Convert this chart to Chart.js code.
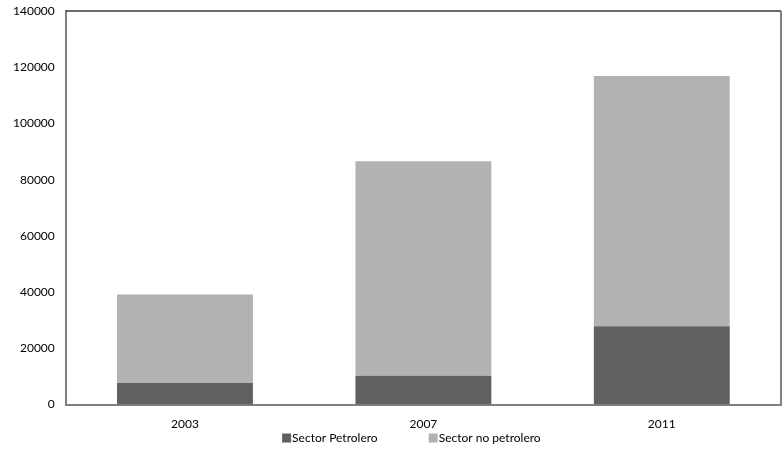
<!DOCTYPE html>
<html>
<head>
<meta charset="utf-8">
<script src="https://cdn.jsdelivr.net/npm/chart.js@4"></script>
<style>
  html, body { margin: 0; padding: 0; background: #fff; }
  #wrap { width: 783px; height: 451px; }
</style>
</head>
<body>
<div id="wrap"><canvas id="grafico"></canvas></div>
<script>
const anios = ["2003", "2007", "2011"];
const petrolero = [7700, 10300, 27900];
const noPetrolero = [31500, 76300, 89000];
const ticksY = [0, 20000, 40000, 60000, 80000, 100000, 120000, 140000];

const fuente = { family: "Lato", size: 12 };

// marco del area de trazado (arriba y derecha) y leyenda compacta abajo
const marcoYLeyenda = {
    id: "marcoYLeyenda",
    afterDraw(chart) {
        const { ctx, chartArea: a } = chart;
        ctx.save();
        ctx.strokeStyle = "#3a3a3a";
        ctx.lineWidth = 1.5;
        ctx.beginPath();
        ctx.moveTo(a.left, a.top);
        ctx.lineTo(a.right, a.top);
        ctx.stroke();
        ctx.strokeStyle = "#808080";
        ctx.lineWidth = 2;
        ctx.beginPath();
        ctx.moveTo(a.right, a.top);
        ctx.lineTo(a.right, a.bottom);
        ctx.stroke();

        // leyenda
        ctx.font = fuente.size + "px " + fuente.family;
        ctx.textBaseline = "middle";
        ctx.fillStyle = "#000";
        const caja = 9, sep = 1, hueco = 51;
        const items = chart.data.datasets.map(ds => ({
            texto: ds.label,
            color: ds.backgroundColor,
            ancho: ctx.measureText(ds.label).width
        }));
        let total = 0;
        items.forEach((it, i) => {
            total += caja + sep + it.ancho + (i > 0 ? hueco : 0);
        });
        let x = (a.left + a.right) / 2 - 12 - total / 2;
        const y = chart.height - 13;
        items.forEach(it => {
            ctx.fillStyle = it.color;
            ctx.fillRect(x, y - caja / 2, caja, caja);
            ctx.fillStyle = "#000";
            ctx.fillText(it.texto, x + caja + sep, y);
            x += caja + sep + it.ancho + hueco;
        });
        ctx.restore();
    }
};

const ctx = document.getElementById("grafico").getContext("2d");
new Chart(ctx, {
    type: "bar",
    data: {
        labels: anios,
        datasets: [
            {
                label: "Sector Petrolero",
                data: petrolero,
                backgroundColor: "#606060",
                borderWidth: 0
            },
            {
                label: "Sector no petrolero",
                data: noPetrolero,
                backgroundColor: "#b2b2b2",
                borderWidth: 0
            }
        ]
    },
    options: {
        responsive: true,
        maintainAspectRatio: false,
        animation: false,
        layout: { padding: { left: 2, right: 2, top: 0, bottom: 8 } },
        datasets: {
            bar: { categoryPercentage: 0.57, barPercentage: 1 }
        },
        plugins: {
            legend: { display: false },
            tooltip: { enabled: false }
        },
        scales: {
            x: {
                stacked: true,
                grid: { display: false, drawTicks: false },
                border: { color: "#808080", width: 2 },
                ticks: {
                    color: "#000",
                    padding: 12,
                    font: fuente
                }
            },
            y: {
                stacked: true,
                min: 0,
                max: 140000,
                afterBuildTicks(axis) {
                    axis.ticks = ticksY.map(v => ({ value: v }));
                },
                afterFit(axis) {
                    axis.paddingTop = 11;
                },
                grid: { display: false, drawTicks: false },
                border: { color: "#808080", width: 2 },
                ticks: {
                    color: "#000",
                    padding: 11,
                    font: fuente,
                    callback: v => String(v)
                }
            }
        }
    },
    plugins: [marcoYLeyenda]
});
</script>
</body>
</html>
